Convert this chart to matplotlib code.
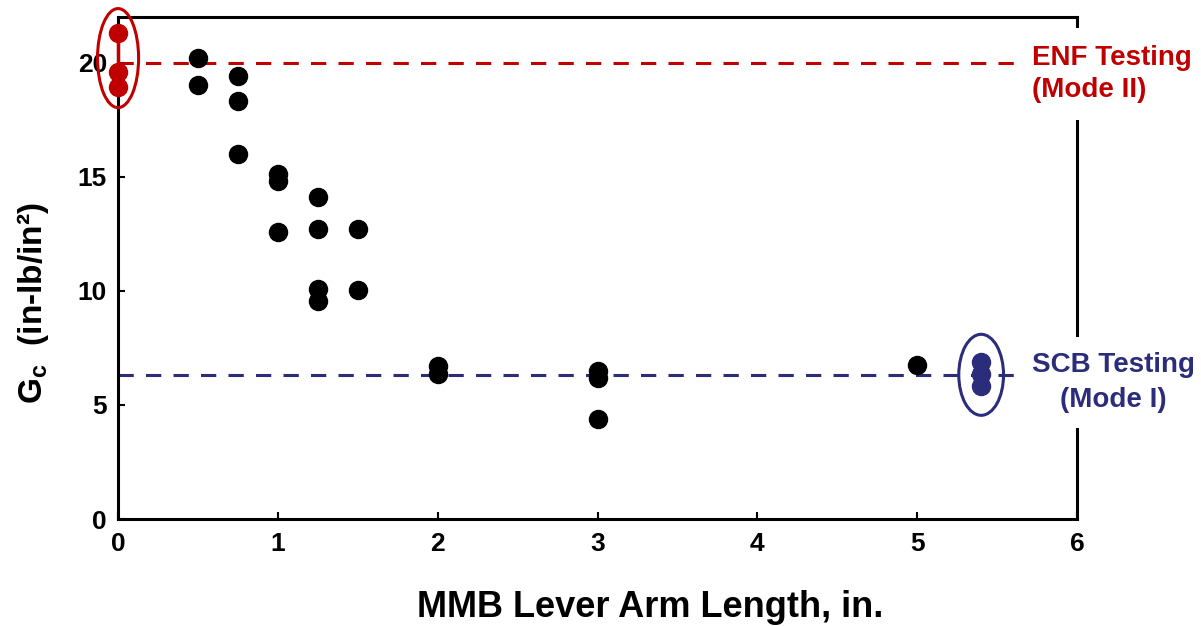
import matplotlib
matplotlib.use("Agg")
import matplotlib.pyplot as plt
from matplotlib.patches import Ellipse

plt.rcParams['font.family'] = ['Liberation Sans', 'DejaVu Sans']
plt.rcParams['font.weight'] = 'bold'
plt.rcParams['mathtext.default'] = 'regular'

# MMB data (lever arm length, Gc)
mmb_x = [0.5, 0.5, 0.75, 0.75, 0.75, 1.0, 1.0, 1.0, 1.25, 1.25, 1.25, 1.25,
         1.5, 1.5, 2.0, 2.0, 3.0, 3.0, 3.0, 5.0]
mmb_y = [20.2, 19.0, 19.4, 18.3, 16.0, 15.1, 14.8, 12.6, 14.1, 12.7, 10.1, 9.55,
         12.7, 10.05, 6.7, 6.35, 6.5, 6.2, 4.4, 6.75]

# ENF (Mode II) tests plotted at x = 0
enf_x = [0.0, 0.0, 0.0]
enf_y = [21.3, 19.6, 18.95]
enf_mean = 20.0

# SCB (Mode I) tests plotted at x = 5.4
scb_x = [5.4, 5.4, 5.4]
scb_y = [6.9, 6.35, 5.85]
scb_mean = 6.3

x_ticks = [0, 1, 2, 3, 4, 5, 6]
y_ticks = [0, 5, 10, 15, 20]

red = '#C00000'
navy = '#2B2D7A'

fig = plt.figure(figsize=(12.01, 6.26), dpi=100)
ax = fig.add_axes([0.0983, 0.1709, 0.7985, 0.8019])

ax.set_xlim(0, 6)
ax.set_ylim(0, 22)

# reference lines
ax.plot([0, 6], [enf_mean, enf_mean], color=red, lw=2.2, dashes=(5, 4), zorder=2)
ax.plot([0, 6], [scb_mean, scb_mean], color=navy, lw=2.2, dashes=(5, 4), zorder=2)

# MMB points
ax.plot(mmb_x, mmb_y, 'o', color='black', markersize=13, zorder=3, linestyle='none')

# ENF points + range line
ax.plot([enf_x[0], enf_x[0]], [min(enf_y), max(enf_y)], color=red, lw=2.5, zorder=4, clip_on=False)
ax.plot(enf_x, enf_y, 'o', color=red, markersize=13, zorder=5, linestyle='none', clip_on=False)

# SCB points + range line
ax.plot([scb_x[0], scb_x[0]], [min(scb_y), max(scb_y)], color=navy, lw=2.5, zorder=4)
ax.plot(scb_x, scb_y, 'o', color=navy, markersize=13, zorder=5, linestyle='none')

# ellipses
ax.add_patch(Ellipse((0.0, 20.2), 0.257, 4.34, fill=False, edgecolor=red, lw=2.2,
                     zorder=6, clip_on=False))
ax.add_patch(Ellipse((5.4, 6.32), 0.28, 3.55, fill=False, edgecolor=navy, lw=2.2,
                     zorder=6, clip_on=False))

for s in ax.spines.values():
    s.set_linewidth(2.2)
    s.set_color('black')

ax.set_xticks(x_ticks)
ax.set_yticks(y_ticks)
ax.tick_params(axis='both', direction='in', length=5, width=1.5, labelsize=19)
ax.tick_params(axis='x', pad=9)
ax.tick_params(axis='y', pad=8)
for lab in ax.get_xticklabels() + ax.get_yticklabels():
    lab.set_fontweight('bold')

ax.set_xlabel('MMB Lever Arm Length, in.', fontsize=26, fontweight='bold')
ax.xaxis.set_label_coords(0.555, -0.142)
ax.xaxis.label.set_va('top')

ax.set_ylabel('G$_{c}$  (in-lb/in²)', fontsize=24, fontweight='bold')
ax.yaxis.set_label_coords(-0.07, 0.43)

fig.text(0.859, 0.882, 'ENF Testing\n(Mode II)', color=red, fontsize=20,
         fontweight='bold', ha='left', va='center', linespacing=1.3,
         bbox=dict(boxstyle='square,pad=0.6', facecolor='white', edgecolor='none'))
fig.text(0.9267, 0.389, 'SCB Testing\n(Mode I)', color=navy, fontsize=20,
         fontweight='bold', ha='center', va='center', multialignment='center',
         linespacing=1.42,
         bbox=dict(boxstyle='square,pad=0.55', facecolor='white', edgecolor='none'))

fig.savefig('out.png', dpi=100)
